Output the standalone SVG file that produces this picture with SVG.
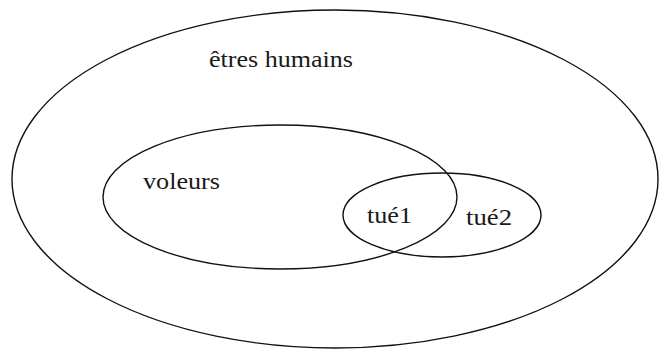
<svg xmlns="http://www.w3.org/2000/svg" width="660" height="352" viewBox="0 0 660 352">
<style>
.set{fill:none;stroke:#111;stroke-width:1.4}
.lbl{font-family:'Liberation Serif','Times New Roman','DejaVu Serif',serif;font-size:24px;fill:#1a1a1a}
</style>
<rect width="660" height="352" fill="#fff"/>
<g id="etres-humains">
<ellipse class="set" cx="335" cy="179" rx="323" ry="169"/>
<text class="lbl" x="209" y="67" textLength="144" lengthAdjust="spacingAndGlyphs">êtres humains</text>
</g>
<g id="voleurs">
<ellipse class="set" cx="280" cy="197" rx="177" ry="72"/>
<text class="lbl" x="143" y="189" textLength="77" lengthAdjust="spacingAndGlyphs">voleurs</text>
</g>
<g id="tue">
<ellipse class="set" cx="442" cy="215" rx="99" ry="42"/>
<text class="lbl" x="367" y="223" textLength="45" lengthAdjust="spacingAndGlyphs">tué1</text>
<text class="lbl" x="466" y="225" textLength="46" lengthAdjust="spacingAndGlyphs">tué2</text>
</g>
<g id="connectors"/>
</svg>
